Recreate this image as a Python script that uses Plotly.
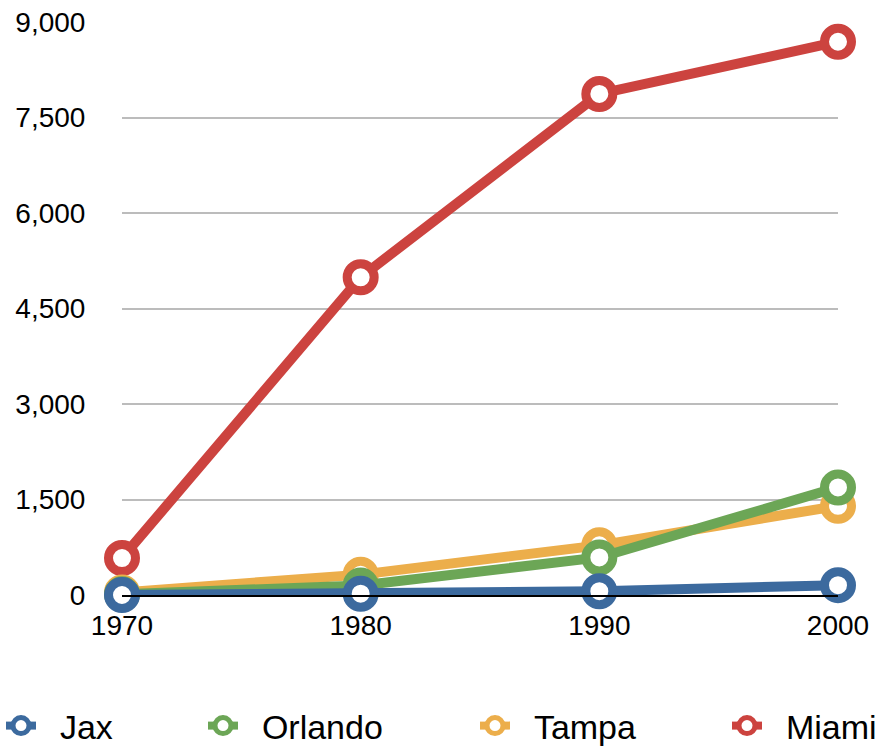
import plotly.graph_objects as go

years = [1970, 1980, 1990, 2000]
jax = [0, 20, 60, 155]
orlando = [10, 150, 590, 1690]
tampa = [40, 320, 780, 1400]
miami = [580, 4990, 7870, 8690]

series = [
    ("Miami", miami, "#cc433f", "legend4"),
    ("Tampa", tampa, "#ecae4b", "legend3"),
    ("Orlando", orlando, "#6ca656", "legend2"),
    ("Jax", jax, "#3c6a9e", "legend"),
]

y_ticks = [0, 1500, 3000, 4500, 6000, 7500, 9000]
y_labels = ["0", "1,500", "3,000", "4,500", "6,000", "7,500", "9,000"]

FONT = "Liberation Sans, Arial, Helvetica, sans-serif"
PAD = "\u00a0\u00a0"

fig = go.Figure()
for name, vals, color, lg in series:
    fig.add_trace(go.Scatter(
        x=years, y=vals, name=name, mode="lines+markers",
        line=dict(color=color, width=10),
        marker=dict(size=27, color="white", line=dict(color=color, width=9)),
        cliponaxis=False, showlegend=False,
    ))
for name, vals, color, lg in series:
    fig.add_trace(go.Scatter(
        x=[None], y=[None], name=PAD + name, mode="lines+markers",
        line=dict(color=color, width=8),
        marker=dict(size=16, color="white", line=dict(color=color, width=6)),
        showlegend=True, legend=lg, hoverinfo="skip",
    ))

leg_common = dict(orientation="h", xref="container", yref="container",
                  yanchor="middle", xanchor="left", y=1 - 726 / 749,
                  font=dict(size=34, color="black", family=FONT),
                  bgcolor="rgba(0,0,0,0)", itemwidth=30)
legend_left = {"legend": 1, "legend2": 203, "legend3": 475, "legend4": 727}

fig.update_layout(
    width=875, height=749,
    margin=dict(l=122, r=37, t=22, b=154, autoexpand=False),
    paper_bgcolor="white", plot_bgcolor="white",
    font=dict(family=FONT, color="black"),
    showlegend=True,
    xaxis=dict(range=[1970, 2000], tickvals=years, ticktext=[str(y) for y in years],
               showgrid=False, zeroline=False, showline=True, linecolor="black",
               linewidth=2, ticks="outside", ticklen=4, tickcolor="rgba(0,0,0,0)",
               automargin=False,
               tickfont=dict(size=28, color="black", family=FONT)),
    yaxis=dict(range=[0, 9000], tickvals=y_ticks, ticktext=y_labels,
               showgrid=True, gridcolor="#bcbcbc", gridwidth=2, zeroline=False,
               showline=False, ticks="outside", ticklen=30, tickcolor="rgba(0,0,0,0)",
               automargin=False,
               tickfont=dict(size=28, color="black", family=FONT)),
)
for key, px in legend_left.items():
    fig.update_layout({key: dict(leg_common, x=px / 875)})

fig.write_html("out.html")
